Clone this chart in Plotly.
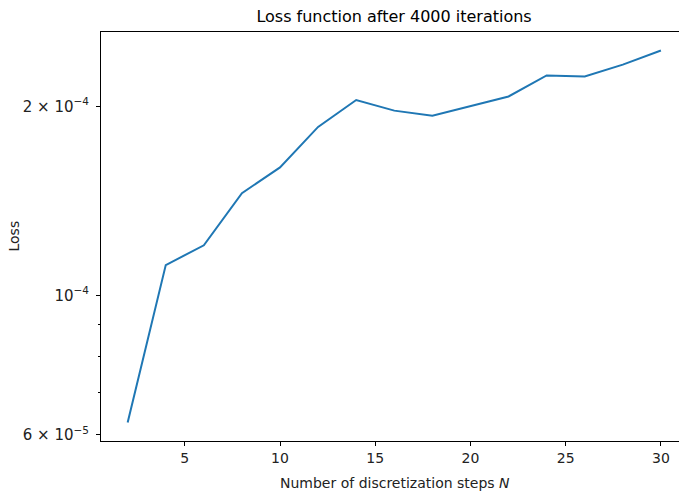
import plotly.graph_objects as go

steps = [2, 4, 6, 8, 10, 12, 14, 16, 18, 20, 22, 24, 26, 28, 30]
loss = [6.28e-5, 1.118e-4, 1.202e-4, 1.455e-4, 1.599e-4, 1.855e-4, 2.047e-4,
        1.969e-4, 1.933e-4, 2.002e-4, 2.074e-4, 2.240e-4, 2.232e-4, 2.331e-4, 2.454e-4]

x_ticks = [5, 10, 15, 20, 25, 30]
y_ticks = [6e-5, 1e-4, 2e-4]
y_ticktext = ["6 \u00d7 10<sup>\u22125</sup>", "10<sup>\u22124</sup>", "2 \u00d7 10<sup>\u22124</sup>"]
y_minor = [7e-5, 8e-5, 9e-5]

W, H = 679, 494
L, T, B = 101, 32, 53

font = "DejaVu Sans"

fig = go.Figure()
fig.add_trace(go.Scatter(x=steps, y=loss, mode="lines",
                         line=dict(color="#1f77b4", width=2), showlegend=False))

fig.update_layout(
    width=W, height=H,
    margin=dict(l=L, r=0, t=T, b=B),
    paper_bgcolor="white", plot_bgcolor="white",
    font=dict(family=font, size=14, color="black"),
    title=dict(text="Loss function after 4000 iterations", x=0.507, xanchor="center",
               xref="paper", y=1 - 16 / H, yref="container", yanchor="middle",
               font=dict(family=font, size=16, color="black")),
    xaxis=dict(range=[0.6, 30.95], tickvals=x_ticks, showgrid=False, zeroline=False,
               showline=True, linecolor="black", linewidth=1, mirror=True,
               ticks="outside", ticklen=4, tickcolor="black",
               tickfont=dict(family=font, size=14, color="#222")),
    yaxis=dict(type="log", range=[-4.2316, -3.5806], tickvals=y_ticks, ticktext=y_ticktext,
               showgrid=False, zeroline=False, showline=True, linecolor="black", linewidth=1,
               ticks="outside", ticklen=4, tickcolor="black", ticklabelstandoff=4,
               tickfont=dict(family=font, size=15, color="#222"),
               minor=dict(tickvals=y_minor, ticks="outside", ticklen=2, tickcolor="black", showgrid=False)),
    annotations=[
        dict(text="Number of discretization steps <i>N</i>", x=0.5 * (688 - L) / (W - L), xref="paper",
             y=0, yref="paper", yshift=-42, xanchor="center", yanchor="middle", showarrow=False,
             font=dict(family=font, size=14, color="#222")),
        dict(text="Loss", x=0, xref="paper", xshift=13 - L, y=0.5, yref="paper",
             textangle=-90, xanchor="center", yanchor="middle", showarrow=False,
             font=dict(family=font, size=14, color="#222")),
    ],
)

fig.write_html("out.html")
